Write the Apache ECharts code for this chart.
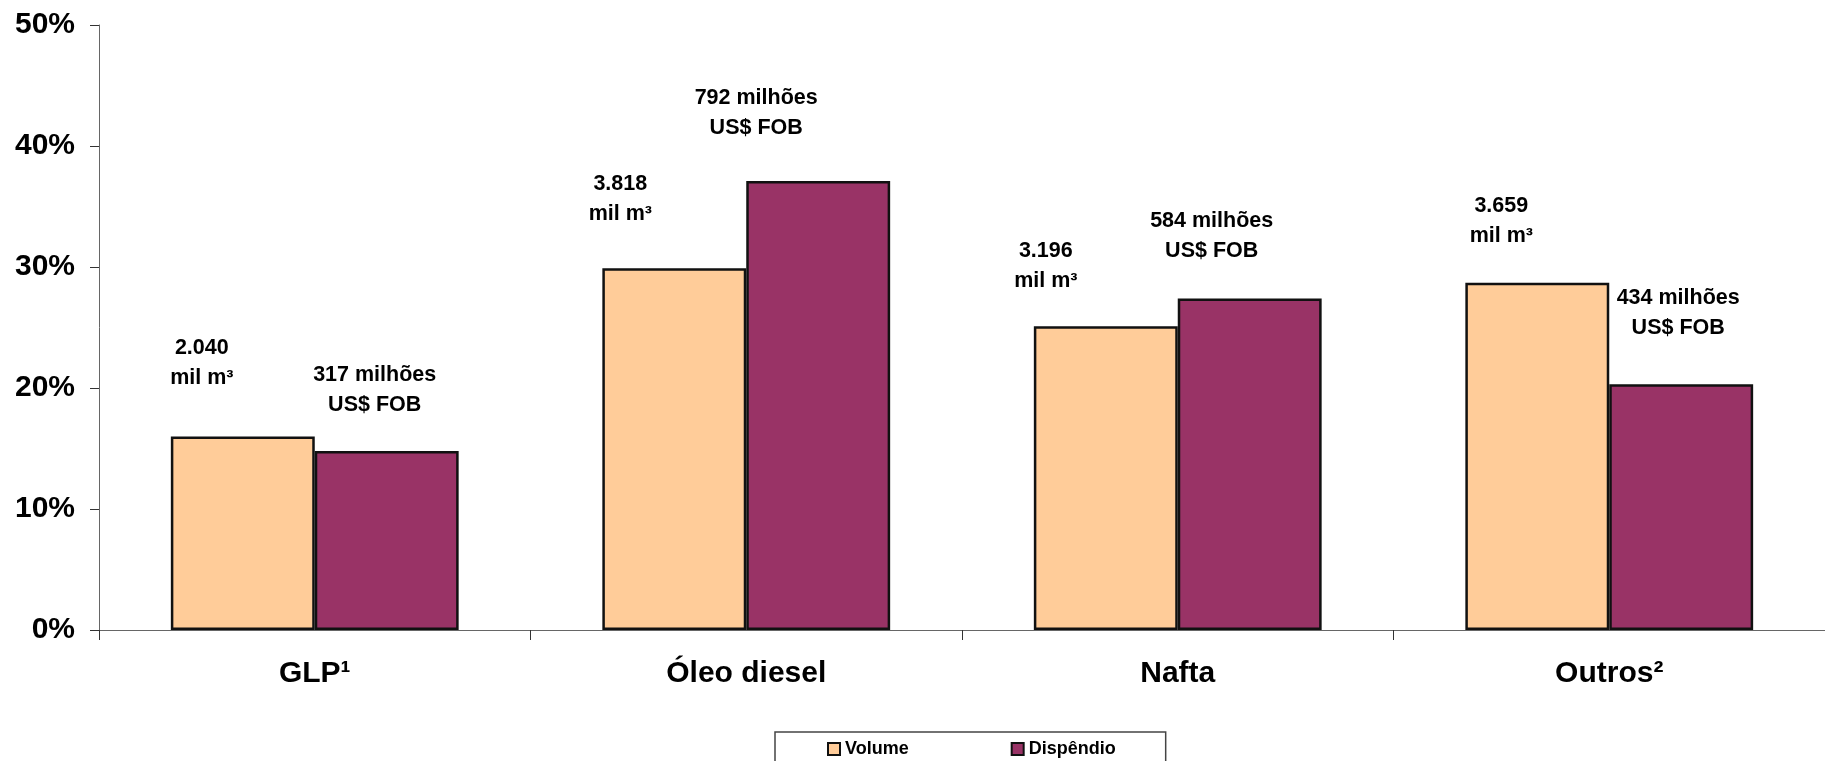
<!DOCTYPE html>
<html>
<head>
<meta charset="utf-8">
<script src="https://cdn.jsdelivr.net/npm/echarts@6/dist/echarts.min.js"></script>
<style>
html,body{margin:0;padding:0;background:#fff;}
#chart{width:1825px;height:761px;}
</style>
</head>
<body>
<div id="chart"></div>
<script>
// ---- data ----
const categories = ['GLP¹', 'Óleo diesel', 'Nafta', 'Outros²'];
const volumeShare = [16.0, 29.9, 25.1, 28.7];   // % share, Volume
const spendShare = [14.8, 37.1, 27.4, 20.3];    // % share, Dispêndio
const volumeText = ['2.040', '3.818', '3.196', '3.659'];   // mil m³
const spendText = ['317', '792', '584', '434'];            // milhões US$ FOB
const seriesNames = ['Volume', 'Dispêndio'];
const yMin = 0, yMax = 50, yStep = 10;

// ---- label placement (styling, px) ----
const volLabelOffset = [[-41, -43], [-54, -39], [-60, -30], [-36, -32]];
const spendLabelOffset = [[-12, -31], [-62, -38], [-38, -32], [-3, -41]];

const FONT = '"Liberation Sans", Arial, Helvetica, sans-serif';
const labelBase = {
  show: true, position: 'top', distance: 0,
  fontFamily: FONT, fontWeight: 'bold', fontSize: 21.5, lineHeight: 30,
  color: '#000', align: 'center'
};

const volData = volumeShare.map((v, i) => ({
  value: v,
  label: Object.assign({}, labelBase, {
    offset: volLabelOffset[i],
    formatter: volumeText[i] + '\nmil m³'
  })
}));
const spendData = spendShare.map((v, i) => ({
  value: v,
  label: Object.assign({}, labelBase, {
    offset: spendLabelOffset[i],
    formatter: spendText[i] + ' milhões\nUS$ FOB'
  })
}));

const chart = echarts.init(document.getElementById('chart'), null, {renderer: 'canvas'});
chart.setOption({
  animation: false,
  backgroundColor: '#ffffff',
  grid: {left: 99, top: 25, width: 1740, height: 605, containLabel: false},
  legend: {
    data: seriesNames,
    left: 775, top: 732,
    padding: [8, 50, 10, 52],
    itemGap: 102,
    itemWidth: 12, itemHeight: 12,
    icon: 'rect',
    borderColor: '#444', borderWidth: 1.5,
    textStyle: {fontFamily: FONT, fontWeight: 'bold', fontSize: 18, color: '#000'}
  },
  xAxis: {
    type: 'category',
    data: categories,
    axisLine: {lineStyle: {color: '#666', width: 1}},
    axisTick: {show: true, length: 10, lineStyle: {color: '#333'}},
    axisLabel: {fontFamily: FONT, fontWeight: 'bold', fontSize: 30, color: '#000', margin: 29},
    splitLine: {show: false}
  },
  yAxis: {
    type: 'value',
    min: yMin, max: yMax, interval: yStep,
    axisLine: {show: true, lineStyle: {color: '#666', width: 1}},
    axisTick: {show: true, length: 9, lineStyle: {color: '#333'}},
    axisLabel: {formatter: '{value}%', fontFamily: FONT, fontWeight: 'bold', fontSize: 30, color: '#000', margin: 24},
    splitLine: {show: false}
  },
  series: [
    {
      name: seriesNames[0], type: 'bar', data: volData,
      barGap: '0%', barCategoryGap: '33.3%',
      itemStyle: {color: '#FFCC99', borderColor: '#111', borderWidth: 2.5}
    },
    {
      name: seriesNames[1], type: 'bar', data: spendData,
      barGap: '0%', barCategoryGap: '33.3%',
      itemStyle: {color: '#993366', borderColor: '#111', borderWidth: 2.5}
    }
  ]
});
</script>
</body>
</html>
